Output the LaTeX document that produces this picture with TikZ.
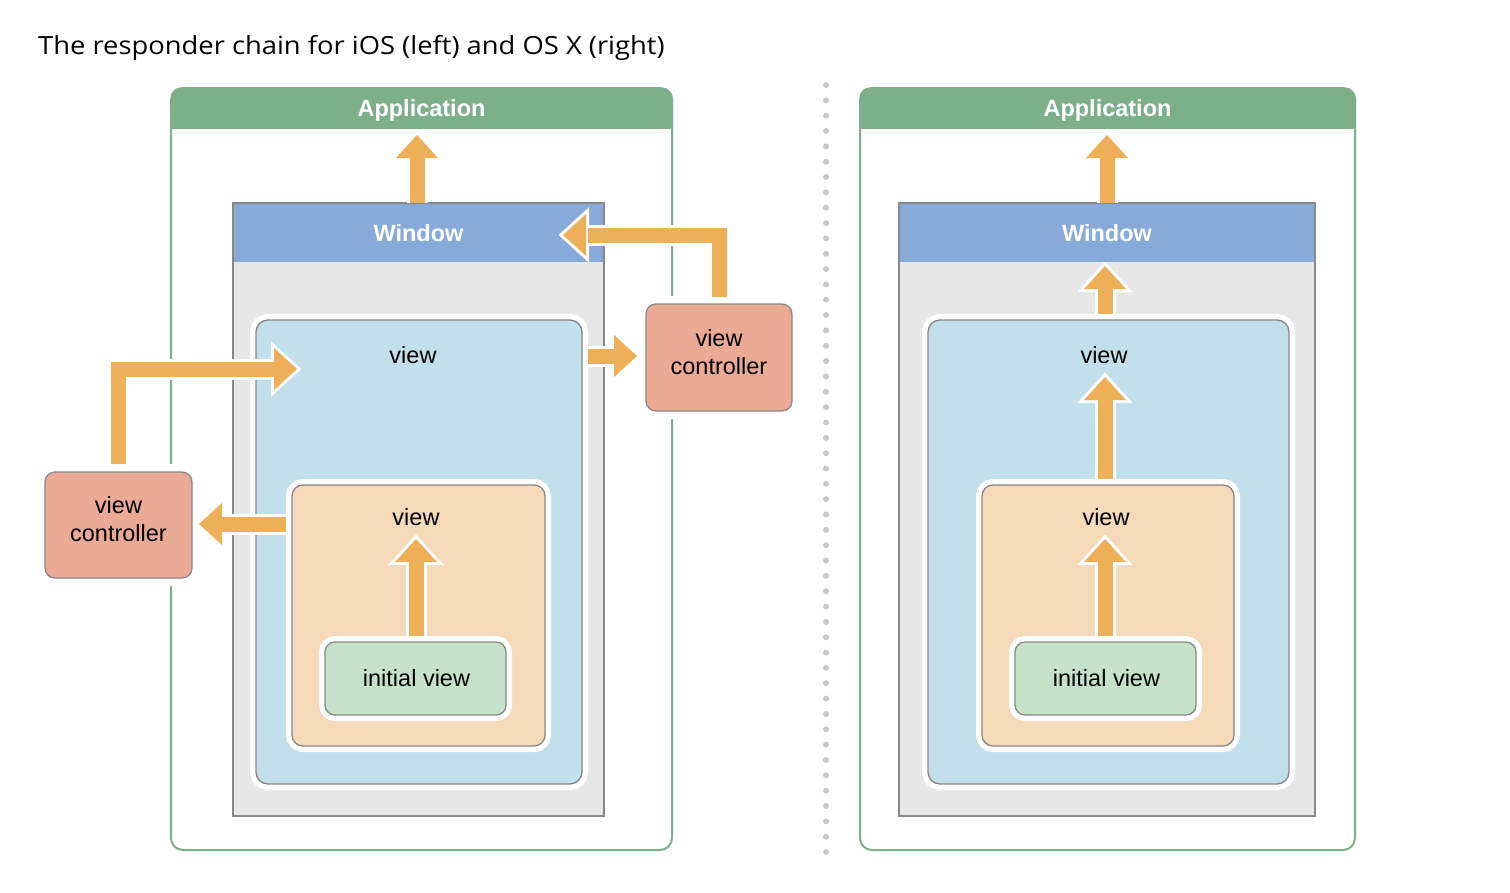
\documentclass[tikz,border=0pt]{standalone}
\usepackage{fontspec}
\setmainfont{Liberation Sans}
\newfontfamily\titlefont{Open Sans}
\usetikzlibrary{calc}
\definecolor{appgreen}{RGB}{125,176,138}
\definecolor{winblue}{RGB}{136,170,216}
\definecolor{wingray}{RGB}{230,231,230}
\definecolor{bordgray}{RGB}{136,136,136}
\definecolor{viewblue}{RGB}{194,224,235}
\definecolor{viewtan}{RGB}{246,217,184}
\definecolor{initgreen}{RGB}{198,226,201}
\definecolor{vcred}{RGB}{234,170,150}
\definecolor{arrorange}{RGB}{237,175,87}
\definecolor{dotgray}{RGB}{200,200,200}
\tikzset{
  box/.style={rectangle, anchor=north west, inner sep=0pt, outer sep=0pt},
  appbox/.style={box, draw=appgreen, line width=2pt, fill=white, rounded corners=12pt},
  winbox/.style={box, draw=bordgray, line width=2.5pt, fill=wingray},
  viewbox/.style={box, draw=bordgray, line width=1.3pt, rounded corners=#1,
     preaction={draw=white, line width=12pt}},
  vcbox/.style={box, draw=bordgray, line width=1.3pt, fill=vcred, rounded corners=10pt,
     preaction={draw=white, line width=16pt}},
  lbl/.style={font=\fontsize{23.5}{28}\selectfont, text=black, inner sep=0pt, align=center},
  hdr/.style={font=\fontsize{23.5}{28}\selectfont\bfseries, text=white, inner sep=0pt},
  arrhalo/.style={draw=white, line width=21pt, line join=miter},
  arrshaft/.style={draw=arrorange, line width=15pt, line join=miter},
  pics/ahead/.style={code={\fill[arrorange] (0,0) -- (-21,23) -- (21,23) -- cycle;}},
  pics/aheadhalo/.style={code={\filldraw[white, line width=6pt, line join=miter] (0,0) -- (-21,23) -- (21,23) -- cycle;}},
}
\newcommand\blockarr[3]{%
  \draw[arrhalo] #1; \pic[rotate=#3] at #2 {aheadhalo};
  \draw[arrshaft] #1; \pic[rotate=#3] at #2 {ahead};}
\begin{document}
\begin{tikzpicture}[x=1pt, y=-1pt]
\useasboundingbox[fill=white] (0,0) rectangle (1510,892);

\node[anchor=base west, inner sep=0pt, xscale=1.094, transform shape, font=\titlefont\fontsize{25}{30}\selectfont] (title) at (38,54) {The responder chain for iOS (left) and OS X (right)};

% separator
\coordinate (sepT) at (826,85);
\coordinate (sepB) at (826,852);
\draw[dotgray, line width=6pt, line cap=round, dash pattern=on 0pt off 15.34pt] (sepT) -- (sepB);

% ===== LEFT (iOS) =====
\node[appbox, minimum width=501pt, minimum height=762pt] (appL) at (171,88) {};
\begin{scope}
  \clip (appL.north west) rectangle ($(appL.north east)+(2,40)$);
  \fill[appgreen, rounded corners=12pt] ($(appL.north west)+(-1,-1)$) rectangle ($(appL.south east)+(1,1)$);
\end{scope}
\node[hdr] at ($(appL.north)+(0,22)$) {Application};

\node[winbox, minimum width=371pt, minimum height=613pt] (winL) at (233,203) {};
\fill[winblue] ($(winL.north west)+(1.25,1.25)$) rectangle ($(winL.north east)+(-1.25,59)$);
\node[hdr] at ($(winL.north)+(0,30)$) {Window};

\node[viewbox=12pt, fill=viewblue, minimum width=326pt, minimum height=464pt] (ovL) at (256,320) {};
\node[lbl] at (413,355) {view};
\node[viewbox=11pt, fill=viewtan, minimum width=253pt, minimum height=261pt] (ivL) at (292,485) {};
\node[lbl] at (416,517) {view};
\node[viewbox=10pt, fill=initgreen, minimum width=181pt, minimum height=73pt] (initL) at (325,642) {};
\node[lbl] at ($(initL.center)+(1,0)$) {initial view};

\node[vcbox, minimum width=146pt, minimum height=107pt] (vcR) at (646,304) {};
\node[lbl] at ($(vcR.center)+(0,-5)$) {view\\controller};
\node[vcbox, minimum width=147pt, minimum height=106pt] (vcL) at (45,472) {};
\node[lbl] at ($(vcL.center)+(0,-6)$) {view\\controller};

% arrows left
\blockarr{($(winL.north west)!(417,0)!(winL.north east)$) -- (417,156)}{(417,135)}{0}
\blockarr{(416,636) -- (416,561)}{(416,539)}{0}
\blockarr{(588,356) -- (615,356)}{(637,356)}{-90}
\blockarr{($(vcR.north)+(0,-7)$) -- ($(vcR.north)+(0,-69)$) -- (588,235)}{(563,235)}{90}
\blockarr{($(vcL.north)+(0,-8)$) -- ($(vcL.north)+(0,-103)$) -- (275,369)}{(297,369)}{-90}
\blockarr{(286,524) -- (221,524)}{(199,524)}{90}

% ===== RIGHT (OS X) =====
\node[appbox, minimum width=495pt, minimum height=762pt] (appR) at (860,88) {};
\begin{scope}
  \clip (appR.north west) rectangle ($(appR.north east)+(2,40)$);
  \fill[appgreen, rounded corners=12pt] ($(appR.north west)+(-1,-1)$) rectangle ($(appR.south east)+(1,1)$);
\end{scope}
\node[hdr] at ($(appR.north)+(0,22)$) {Application};

\node[winbox, minimum width=416pt, minimum height=613pt] (winR) at (899,203) {};
\fill[winblue] ($(winR.north west)+(1.25,1.25)$) rectangle ($(winR.north east)+(-1.25,59)$);
\node[hdr] at ($(winR.north)+(0,30)$) {Window};

\node[viewbox=12pt, fill=viewblue, minimum width=361pt, minimum height=464pt] (ovR) at (928,320) {};
\node[lbl] at (1104,355) {view};
\node[viewbox=11pt, fill=viewtan, minimum width=252pt, minimum height=261pt] (ivR) at (982,485) {};
\node[lbl] at (1106,517) {view};
\node[viewbox=10pt, fill=initgreen, minimum width=181pt, minimum height=73pt] (initR) at (1015,642) {};
\node[lbl] at ($(initR.center)+(1,0)$) {initial view};

% arrows right
\blockarr{(1107,203) -- (1107,156)}{(1107,135)}{0}
\blockarr{(1105,314) -- (1105,288)}{(1105,266)}{0}
\blockarr{(1105,479) -- (1105,399)}{(1105,377)}{0}
\blockarr{(1105,636) -- (1105,561)}{(1105,539)}{0}
\end{tikzpicture}
\end{document}
